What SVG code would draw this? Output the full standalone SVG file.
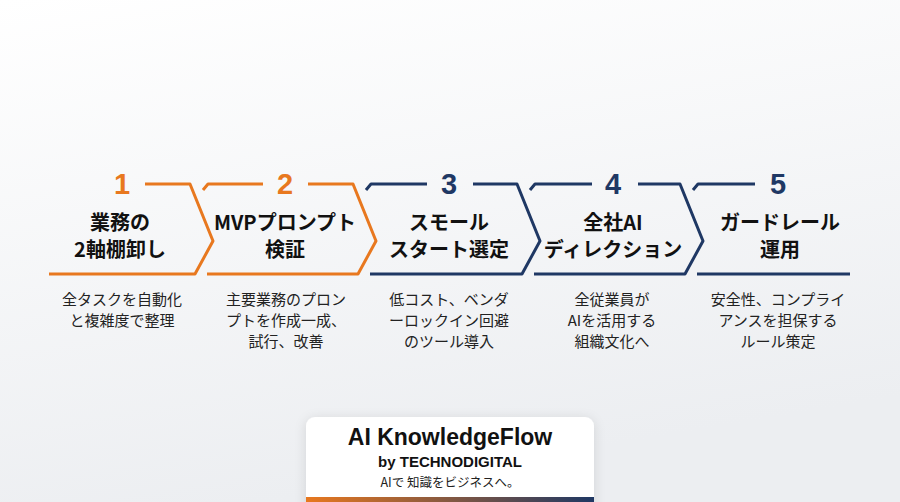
<svg xmlns="http://www.w3.org/2000/svg" width="900" height="502" viewBox="0 0 900 502">
<defs>
<linearGradient id="bg" x1="0" y1="0" x2="0.3" y2="1">
<stop offset="0" stop-color="#ffffff"/>
<stop offset="1" stop-color="#eceef1"/>
</linearGradient>
<linearGradient id="bar" x1="0" y1="0" x2="1" y2="0">
<stop offset="0" stop-color="#e8781f"/>
<stop offset="1" stop-color="#1f3864"/>
</linearGradient>
<filter id="sh" x="-20%" y="-40%" width="140%" height="180%">
<feDropShadow dx="0" dy="2" stdDeviation="6" flood-color="#000" flood-opacity="0.12"/>
</filter>
<style>
.o{fill:none;stroke:#e8781f;stroke-width:3;stroke-linejoin:round;stroke-linecap:butt}
.n{fill:none;stroke:#1f3864;stroke-width:3;stroke-linejoin:round;stroke-linecap:butt}
.num{font-family:"Liberation Sans","Noto Sans",sans-serif;font-weight:bold;font-size:29px;text-anchor:middle}
.no{fill:#e8781f}
.nn{fill:#1f3864}
.t{font-family:"Noto Sans CJK JP","Noto Sans",sans-serif;font-weight:bold;font-size:20px;fill:#111;text-anchor:middle}
.d{font-family:"Noto Sans CJK JP","Noto Sans",sans-serif;font-size:15px;fill:#222;text-anchor:middle}
</style>
</defs>
<rect width="900" height="502" fill="url(#bg)"/>
<g id="connectors">
<path class="o" d="M145,184 L190,184 L213,241 L195,274 L49,274"/>
<path class="o" d="M263,184 L208,184 L203,190"/>
<path class="o" d="M308,184 L353,184 L376,241 L358,274 L207,274"/>
<path class="n" d="M427,184 L371,184 L366,190"/>
<path class="n" d="M473,184 L517,184 L540,241 L522,274 L370,274"/>
<path class="n" d="M592,184 L535,184 L530,190"/>
<path class="n" d="M638,184 L680,184 L703,241 L685,274 L534,274"/>
<path class="n" d="M755,184 L698,184 L693,190"/>
<path class="n" d="M697,274 L850,274"/>
</g>
<g id="step1">
<text class="num no" x="122" y="194">1</text>
<text class="t" x="120" y="230">業務の</text>
<text class="t" x="120" y="257">2軸棚卸し</text>
<text class="d" x="122" y="305">全タスクを自動化</text>
<text class="d" x="122" y="326">と複雑度で整理</text>
</g>
<g id="step2">
<text class="num no" x="285" y="194">2</text>
<text class="t" x="285" y="230">MVPプロンプト</text>
<text class="t" x="285" y="257">検証</text>
<text class="d" x="286" y="305">主要業務のプロン</text>
<text class="d" x="286" y="326">プトを作成一成、</text>
<text class="d" x="286" y="347">試行、改善</text>
</g>
<g id="step3">
<text class="num nn" x="449" y="194">3</text>
<text class="t" x="449" y="230">スモール</text>
<text class="t" x="449" y="257">スタート選定</text>
<text class="d" x="449" y="305">低コスト、ベンダ</text>
<text class="d" x="449" y="326">ーロックイン回避</text>
<text class="d" x="449" y="347">のツール導入</text>
</g>
<g id="step4">
<text class="num nn" x="613" y="194">4</text>
<text class="t" x="613" y="230">全社AI</text>
<text class="t" x="613" y="257">ディレクション</text>
<text class="d" x="612" y="305">全従業員が</text>
<text class="d" x="612" y="326">AIを活用する</text>
<text class="d" x="612" y="347">組織文化へ</text>
</g>
<g id="step5">
<text class="num nn" x="778" y="194">5</text>
<text class="t" x="780" y="230">ガードレール</text>
<text class="t" x="780" y="257">運用</text>
<text class="d" x="778" y="305">安全性、コンプライ</text>
<text class="d" x="778" y="326">アンスを担保する</text>
<text class="d" x="778" y="347">ルール策定</text>
</g>
<g id="brand">
<rect x="306" y="417" width="288" height="110" rx="9" fill="#fff" filter="url(#sh)"/>
<rect x="306" y="497" width="288" height="6" fill="url(#bar)"/>
<text x="450" y="445" text-anchor="middle" font-family="'Liberation Sans','Noto Sans',sans-serif" font-weight="bold" font-size="23" fill="#111">AI KnowledgeFlow</text>
<text x="450" y="467" text-anchor="middle" font-family="'Liberation Sans','Noto Sans',sans-serif" font-weight="bold" font-size="15" fill="#111">by TECHNODIGITAL</text>
<text x="450" y="487" text-anchor="middle" font-family="'Noto Sans CJK JP','Noto Sans',sans-serif" font-size="12.5" fill="#222">AIで 知識をビジネスへ。</text>
</g>
</svg>
